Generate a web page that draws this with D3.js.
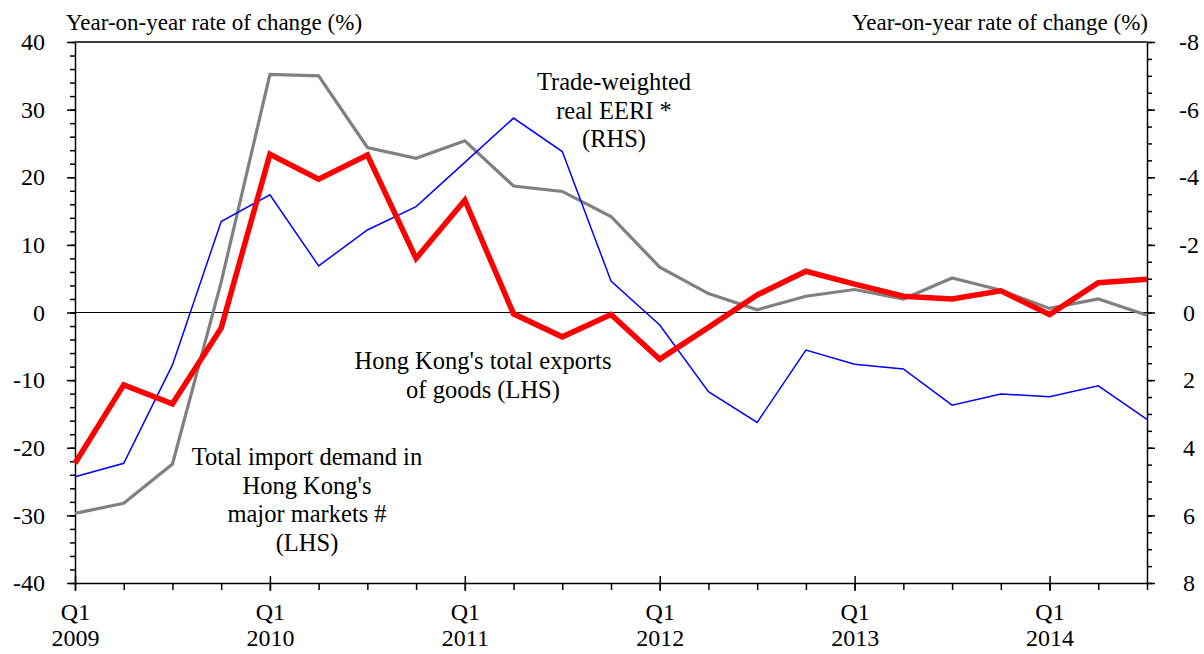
<!DOCTYPE html>
<html>
<head>
<meta charset="utf-8">
<script src="https://cdn.jsdelivr.net/npm/d3@7"></script>
<style>
body { margin: 0; background: #fff; }
svg { font-family: "Liberation Serif", "Times New Roman", serif; }
.axis path, .axis line { stroke: #000; stroke-width: 1.5; }
.axis text { font-family: "Liberation Serif", "Times New Roman", serif; font-size: 24px; fill: #000; }
.xlabel { font-size: 25px; fill: #000; }
.label { font-size: 24.5px; fill: #000; }
.title { font-size: 23px; fill: #000; }
</style>
</head>
<body>
<svg id="chart"></svg>
<script>
// quarters Q1 2009 .. Q3 2014
var quarters = ['Q1 2009','Q2 2009','Q3 2009','Q4 2009','Q1 2010','Q2 2010','Q3 2010','Q4 2010',
    'Q1 2011','Q2 2011','Q3 2011','Q4 2011','Q1 2012','Q2 2012','Q3 2012','Q4 2012',
    'Q1 2013','Q2 2013','Q3 2013','Q4 2013','Q1 2014','Q2 2014','Q3 2014'];

// Hong Kong's total exports of goods (LHS, %)
var exportsGoods = [-22.3, -10.7, -13.5, -2.3, 23.4, 19.7, 23.3, 8.0, 16.6, -0.2, -3.6, -0.3,
    -6.9, -2.2, 2.6, 6.1, 4.2, 2.4, 2.0, 3.2, -0.3, 4.4, 4.9];

// Total import demand in major markets (LHS, %)
var importDemand = [-29.7, -28.2, -22.4, 4.5, 35.2, 35.0, 24.4, 22.8, 25.4, 18.7, 17.9, 14.2,
    6.7, 2.8, 0.4, 2.4, 3.4, 2.0, 5.1, 3.3, 0.6, 2.0, -0.4];

// Trade-weighted real EERI (RHS, %, inverted)
var eeri = [4.86, 4.46, 1.55, -2.69, -3.48, -1.38, -2.44, -3.13, -4.44, -5.75, -4.76, -0.93,
    0.37, 2.34, 3.25, 1.11, 1.53, 1.67, 2.74, 2.41, 2.49, 2.17, 3.16];

var leftTicks = [-40, -30, -20, -10, 0, 10, 20, 30, 40];
var rightTicks = [-8, -6, -4, -2, 0, 2, 4, 6, 8];
var yearTicks = [0, 4, 8, 12, 16, 20];
var yearLabels = ['2009', '2010', '2011', '2012', '2013', '2014'];

var svgWidth = 1204, svgHeight = 654;
var margin = {top: 42, right: 57, bottom: 71, left: 75};
var chartWidth = svgWidth - margin.left - margin.right;
var chartHeight = svgHeight - margin.top - margin.bottom;

var svg = d3.select('#chart')
    .attr('width', svgWidth)
    .attr('height', svgHeight);

var chart = svg.append('g')
    .attr('transform', `translate(${margin.left}, ${margin.top})`);

var xScale = d3.scaleLinear().domain([0, quarters.length - 1]).range([0, chartWidth]);
var yLeft = d3.scaleLinear().domain([-40, 40]).range([chartHeight, 0]);
var yRight = d3.scaleLinear().domain([-8, 8]).range([0, chartHeight]);

// plain hyphen minus, like the original
var plainFormat = function(d) { return String(d); };

// top border
chart.append('line')
    .attr('x1', 0).attr('x2', chartWidth)
    .attr('y1', 0).attr('y2', 0)
    .attr('stroke', '#000').attr('stroke-width', 1.5);

// left axis: minor then major
chart.append('g')
    .attr('class', 'axis')
    .call(d3.axisLeft(yLeft).tickValues(d3.range(-40, 41, 2)).tickSize(5).tickFormat(''))
    .select('.domain').remove();
chart.append('g')
    .attr('class', 'axis')
    .call(d3.axisLeft(yLeft).tickValues(leftTicks).tickSize(8).tickSizeOuter(0)
        .tickPadding(22).tickFormat(plainFormat));

// right axis
chart.append('g')
    .attr('class', 'axis')
    .attr('transform', `translate(${chartWidth}, 0)`)
    .call(d3.axisRight(yRight).tickValues(d3.range(-8, 8.01, 0.5)).tickSize(5).tickFormat(''))
    .select('.domain').remove();
var rightAxis = chart.append('g')
    .attr('class', 'axis')
    .attr('transform', `translate(${chartWidth}, 0)`)
    .call(d3.axisRight(yRight).tickValues(rightTicks).tickSize(8).tickSizeOuter(0).tickFormat(plainFormat));
rightAxis.selectAll('text')
    .attr('x', 42)
    .style('text-anchor', 'middle');

// bottom axis: quarter ticks and Q1 ticks crossing the axis
chart.append('g')
    .attr('class', 'axis')
    .attr('transform', `translate(0, ${chartHeight})`)
    .call(d3.axisBottom(xScale).tickValues(d3.range(0, quarters.length)).tickSize(7).tickSizeOuter(0).tickFormat(''));
var xMajor = chart.append('g')
    .attr('class', 'axis')
    .attr('transform', `translate(0, ${chartHeight})`)
    .call(d3.axisBottom(xScale).tickValues(yearTicks).tickSize(8).tickFormat(''));
xMajor.select('.domain').remove();
xMajor.selectAll('.tick line').attr('y1', -7);
xMajor.selectAll('.tick').each(function(d, i) {
    var t = d3.select(this);
    t.append('text').attr('class', 'xlabel').attr('y', 37).style('text-anchor', 'middle').text('Q1');
    t.append('text').attr('class', 'xlabel').attr('y', 63).style('text-anchor', 'middle').text(yearLabels[i]);
});

// zero line
chart.append('line')
    .attr('x1', 0).attr('x2', chartWidth)
    .attr('y1', yLeft(0)).attr('y2', yLeft(0))
    .attr('stroke', '#000').attr('stroke-width', 1.2);

// lines
var leftLine = d3.line()
    .x(function(d, i) { return xScale(i); })
    .y(function(d) { return yLeft(d); });
var rightLine = d3.line()
    .x(function(d, i) { return xScale(i); })
    .y(function(d) { return yRight(d); });

chart.append('path').datum(importDemand)
    .attr('fill', 'none').attr('stroke', '#808080').attr('stroke-width', 3.2)
    .attr('d', leftLine);
chart.append('path').datum(eeri)
    .attr('fill', 'none').attr('stroke', '#0000ff').attr('stroke-width', 1.5)
    .attr('d', rightLine);
chart.append('path').datum(exportsGoods)
    .attr('fill', 'none').attr('stroke', '#ff0000').attr('stroke-width', 5.5)
    .attr('d', leftLine);

// axis titles
svg.append('text').attr('class', 'title')
    .attr('x', 66).attr('y', 30)
    .text('Year-on-year rate of change (%)');
svg.append('text').attr('class', 'title')
    .attr('x', 1148).attr('y', 30)
    .style('text-anchor', 'end')
    .text('Year-on-year rate of change (%)');

// annotations
function addNote(x, y, lines) {
    var t = svg.append('text').attr('class', 'label')
        .attr('x', x).attr('y', y)
        .style('text-anchor', 'middle');
    lines.forEach(function(line, i) {
        t.append('tspan').attr('x', x).attr('dy', i == 0 ? 0 : 28.5).text(line);
    });
}
addNote(614, 90, ['Trade-weighted', 'real EERI *', '(RHS)']);
addNote(483, 369, ["Hong Kong's total exports", 'of goods (LHS)']);
addNote(307, 465, ['Total import demand in', "Hong Kong's", 'major markets #', '(LHS)']);
</script>
</body>
</html>
